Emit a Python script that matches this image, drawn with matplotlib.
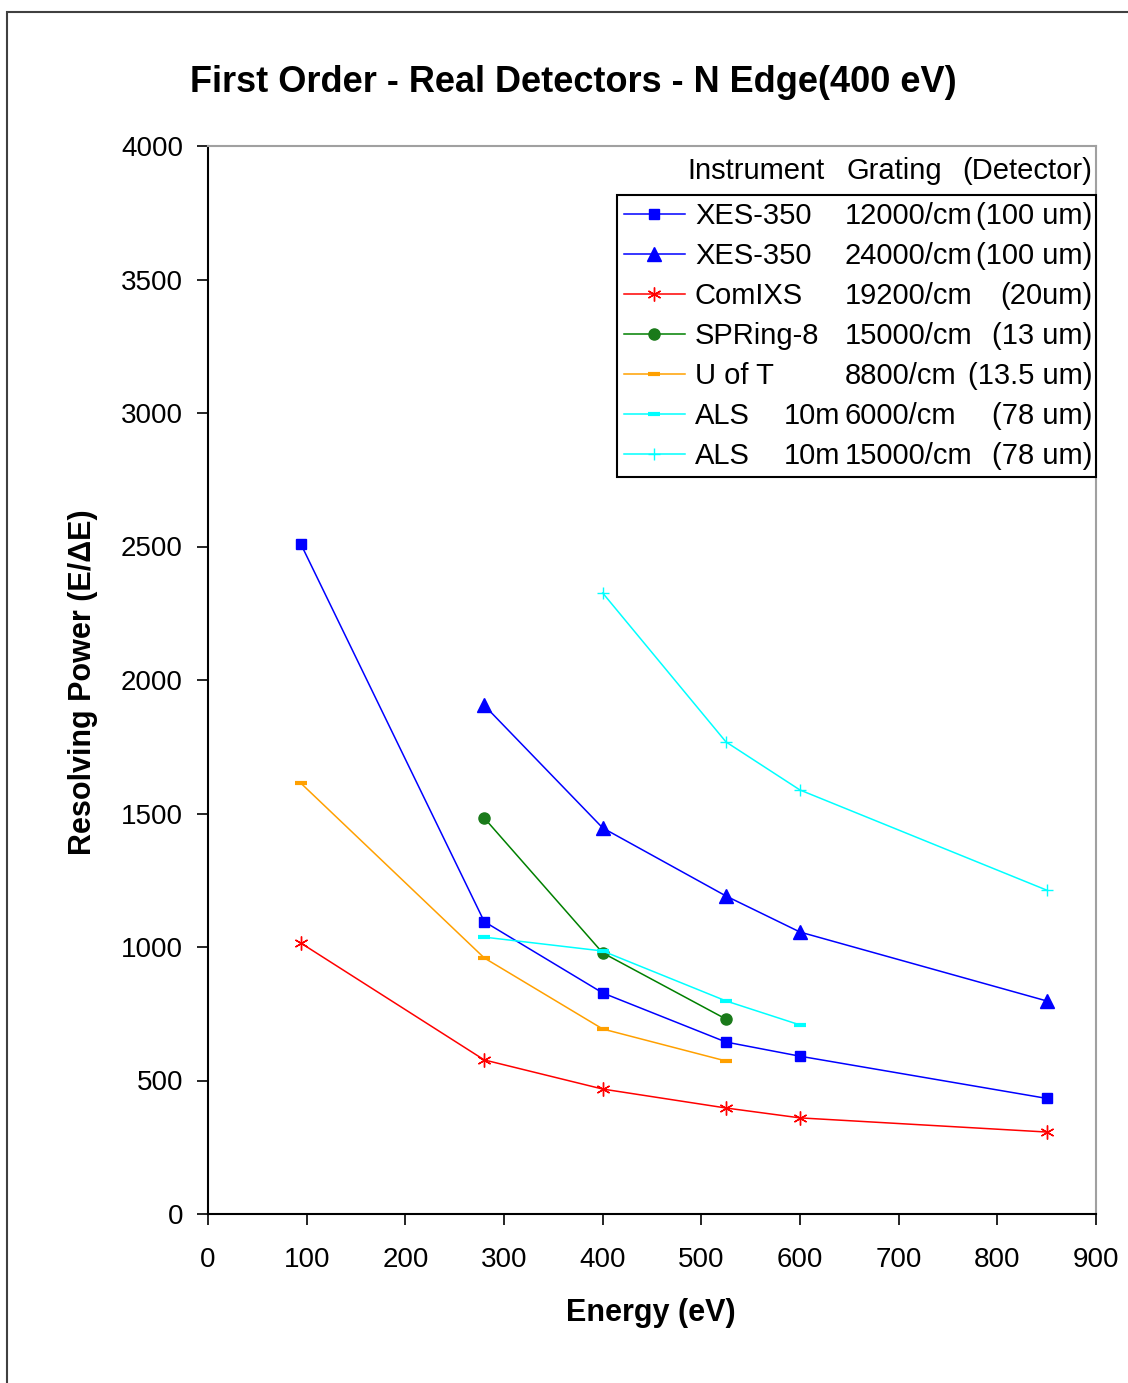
import matplotlib.pyplot as plt
from matplotlib.patches import Rectangle

plt.rcParams['font.family'] = ['Liberation Sans', 'DejaVu Sans']

# energies (eV) and resolving power for each spectrometer
xes12_energy = [94, 280, 400, 525, 600, 850]
xes12_power = [2510, 1095, 828, 644, 591, 433]

xes24_energy = [280, 400, 525, 600, 850]
xes24_power = [1905, 1446, 1191, 1056, 798]

comixs_energy = [94, 280, 400, 525, 600, 850]
comixs_power = [1015, 577, 468, 397, 360, 307]

spring8_energy = [280, 400, 525]
spring8_power = [1483, 978, 730]

uoft_energy = [94, 280, 400, 525]
uoft_power = [1614, 959, 693, 573]

als6_energy = [280, 400, 525, 600]
als6_power = [1037, 985, 798, 708]

als15_energy = [400, 525, 600, 850]
als15_power = [2326, 1768, 1588, 1213]

# legend columns: instrument, length, grating, detector
instruments = ['XES-350', 'XES-350', 'ComIXS', 'SPRing-8', 'U of T', 'ALS', 'ALS']
lengths = ['', '', '', '', '', '10m', '10m']
gratings = ['12000/cm', '24000/cm', '19200/cm', '15000/cm', '8800/cm', '6000/cm', '15000/cm']
detectors = ['(100 um)', '(100 um)', '(20um)', '(13 um)', '(13.5 um)', '(78 um)', '(78 um)']

fig = plt.figure(figsize=(11.28, 13.83), dpi=100)
ax = fig.add_axes([208 / 1128, 1 - 1214 / 1383, 888 / 1128, 1068 / 1383])

lw = 1.1
lines = []
lines += ax.plot(xes12_energy, xes12_power, color='#0000ff', lw=lw, marker='s', ms=7)
lines += ax.plot(xes24_energy, xes24_power, color='#0000ff', lw=lw, marker='^', ms=10)
lines += ax.plot(comixs_energy, comixs_power, color='#ff0000', lw=lw, marker=(6, 2, 0), ms=10, mew=1.0)
lines += ax.plot(spring8_energy, spring8_power, color='#008000', lw=lw, marker='o', ms=8,
                 mfc='#1a7a1a', mec='#1a7a1a')
lines += ax.plot(uoft_energy, uoft_power, color='#ffa000', lw=lw, marker='_', ms=9, mew=3)
lines += ax.plot(als6_energy, als6_power, color='#00ffff', lw=lw, marker='_', ms=9, mew=3)
lines += ax.plot(als15_energy, als15_power, color='#00ffff', lw=lw, marker='+', ms=9, mew=1.0)

ax.set_xlim(0, 900)
ax.set_ylim(0, 4000)
ax.set_xticks(range(0, 901, 100))
ax.set_yticks(range(0, 4001, 500))
ax.tick_params(axis='both', labelsize=20, length=8, width=1.2, direction='out')
ax.tick_params(axis='x', pad=16)
ax.tick_params(axis='y', pad=10)

for side in ['top', 'right']:
    ax.spines[side].set_color('#a0a0a0')
    ax.spines[side].set_linewidth(1.5)
for side in ['left', 'bottom']:
    ax.spines[side].set_color('black')
    ax.spines[side].set_linewidth(1.5)

fig.text(573 / 1128, 1 - 82 / 1383, 'First Order - Real Detectors - N Edge(400 eV)',
         ha='center', va='center', fontsize=26, fontweight='bold')
fig.text(651 / 1128, 1 - 1313 / 1383, 'Energy (eV)', ha='center', va='center',
         fontsize=22, fontweight='bold')
fig.text(83 / 1128, 1 - 682 / 1383, 'Resolving Power (E/ΔE)', ha='center', va='center',
         rotation=90, fontsize=22, fontweight='bold')

leg_x0 = (617 - 208) / 888
leg_top = (1214 - 195) / 1068
leg = ax.legend(lines, instruments, loc='upper left',
                bbox_to_anchor=(leg_x0, leg_top - 0.3, 1 - leg_x0, 0.3),
                mode='expand', borderaxespad=0, fontsize=21, handlelength=2.07,
                handletextpad=0.35, labelspacing=0.41, borderpad=0.25, fancybox=False,
                framealpha=1, edgecolor='black')
leg.get_frame().set_linewidth(1.5)

# header row above the legend box
hy = (1214 - 171) / 1068
ax.text((687 - 208) / 888, hy, 'Instrument', transform=ax.transAxes, fontsize=21, va='center')
ax.text((847 - 208) / 888, hy, 'Grating', transform=ax.transAxes, fontsize=21, va='center')
ax.text((1092 - 208) / 888, hy, '(Detector)', transform=ax.transAxes, fontsize=21,
        va='center', ha='right')

# remaining legend columns, lined up with each legend row
fig.canvas.draw()
inv = ax.transAxes.inverted()
for t, length, grating, det in zip(leg.get_texts(), lengths, gratings, detectors):
    bb = t.get_window_extent()
    yc = inv.transform((0, (bb.y0 + bb.y1) / 2))[1]
    if length:
        ax.text((784 - 208) / 888, yc, length, transform=ax.transAxes, fontsize=21,
                va='center', zorder=6)
    ax.text((845 - 208) / 888, yc, grating, transform=ax.transAxes, fontsize=21,
            va='center', zorder=6)
    ax.text((1092 - 208) / 888, yc, det, transform=ax.transAxes, fontsize=21, va='center',
            ha='right', zorder=6)

# outer frame around the chart
fig.add_artist(Rectangle((7 / 1128, -0.1), 2, 1.1 - 12 / 1383, transform=fig.transFigure,
                         fill=False, edgecolor='#404040', linewidth=1.5))

fig.savefig('out.png', dpi=100)
